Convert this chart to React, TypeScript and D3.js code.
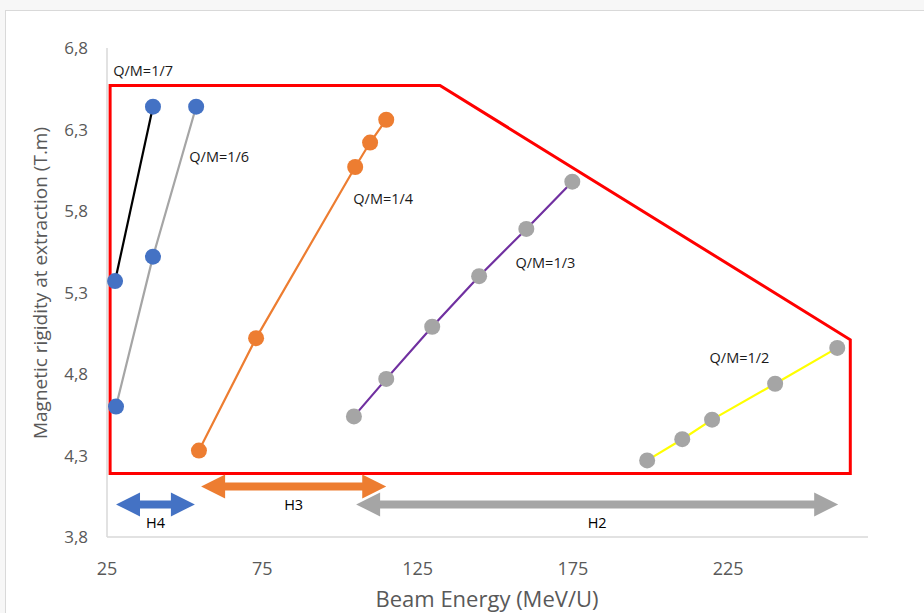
import React, { useRef, useEffect } from 'react';
import * as d3 from 'd3';

const qm7X = [27.6, 39.8];
const qm7Y = [5.37, 6.44];
const qm6X = [27.9, 39.8, 53.7];
const qm6Y = [4.60, 5.52, 6.44];
const qm4X = [54.6, 73.0, 104.9, 109.7, 114.9];
const qm4Y = [4.33, 5.02, 6.07, 6.22, 6.36];
const qm3X = [104.5, 114.9, 129.7, 144.8, 160.0, 174.8];
const qm3Y = [4.54, 4.77, 5.09, 5.40, 5.69, 5.98];
const qm2X = [198.9, 210.2, 219.8, 240.1, 260.1];
const qm2Y = [4.27, 4.40, 4.52, 4.74, 4.96];

const boundX = [26, 132.2, 264.3, 264.3, 26];
const boundY = [6.57, 6.57, 5.01, 4.19, 4.19];

const rangeNames = ['H4', 'H3', 'H2'];
const rangeFrom = [27.9, 55.3, 105.2];
const rangeTo = [53.3, 114.9, 260.4];
const rangeLevel = [4.0, 4.11, 4.0];

const xTicks = [25, 75, 125, 175, 225];
const yTicks = [3.8, 4.3, 4.8, 5.3, 5.8, 6.3, 6.8];

const series = [
  { name: 'Q/M=1/7', xs: qm7X, ys: qm7Y, line: '#000000', dot: '#4472c4', lx: 27, ly: 6.63 },
  { name: 'Q/M=1/6', xs: qm6X, ys: qm6Y, line: '#a5a5a5', dot: '#4472c4', lx: 51.5, ly: 6.1 },
  { name: 'Q/M=1/4', xs: qm4X, ys: qm4Y, line: '#ed7d31', dot: '#ed7d31', lx: 104.3, ly: 5.84 },
  { name: 'Q/M=1/3', xs: qm3X, ys: qm3Y, line: '#7030a0', dot: '#a5a5a5', lx: 156.5, ly: 5.45 },
  { name: 'Q/M=1/2', xs: qm2X, ys: qm2Y, line: '#ffff00', dot: '#a5a5a5', lx: 219, ly: 4.87 },
];
const rangeColors = ['#4472c4', '#ed7d31', '#a5a5a5'];

const W = 924;
const H = 613;
const FONT = '"Open Sans", "Liberation Sans", sans-serif';

const App: React.FC = () => {
  const svgRef = useRef<SVGSVGElement | null>(null);

  useEffect(() => {
    const svg = d3.select(svgRef.current);
    svg.selectAll('*').remove();

    svg.append('rect').attr('width', W).attr('height', H).attr('fill', '#f7f7f7');
    svg.append('rect').attr('x', 5.5).attr('y', 10.5).attr('width', W).attr('height', H)
      .attr('fill', '#ffffff').attr('stroke', '#d9d9d9');

    const x = d3.scaleLinear().domain([25, 270]).range([107, 868]);
    const y = d3.scaleLinear().domain([3.8, 6.8]).range([537, 48]);

    // axes lines
    svg.append('line').attr('x1', x(25)).attr('x2', x(270)).attr('y1', y(3.8)).attr('y2', y(3.8))
      .attr('stroke', '#d9d9d9').attr('stroke-width', 1.5);
    svg.append('line').attr('x1', x(25)).attr('x2', x(25)).attr('y1', y(3.8)).attr('y2', y(6.8))
      .attr('stroke', '#d9d9d9').attr('stroke-width', 1.5);

    svg.append('g').selectAll('text').data(xTicks).join('text')
      .attr('x', d => x(d)).attr('y', 575).attr('text-anchor', 'middle')
      .attr('font-family', FONT).attr('font-size', 18).attr('fill', '#595959')
      .text(d => String(d));
    svg.append('g').selectAll('text').data(yTicks).join('text')
      .attr('x', 88).attr('y', d => y(d) + 6).attr('text-anchor', 'end')
      .attr('font-family', FONT).attr('font-size', 17).attr('fill', '#595959')
      .text(d => d.toFixed(1).replace('.', ','));

    svg.append('text').attr('x', 487).attr('y', 607).attr('text-anchor', 'middle')
      .attr('font-family', FONT).attr('font-size', 22).attr('fill', '#595959')
      .text('Beam Energy (MeV/U)');
    svg.append('text').attr('transform', 'translate(47,283) rotate(-90)').attr('text-anchor', 'middle')
      .attr('font-family', FONT).attr('font-size', 19).attr('fill', '#595959')
      .text('Magnetic rigidity at extraction (T.m)');

    // red boundary
    const bound = d3.line<number>().x(i => x(boundX[i])).y(i => y(boundY[i]));
    svg.append('path').attr('d', bound(d3.range(boundX.length)) + 'Z')
      .attr('fill', 'none').attr('stroke', '#ff0000').attr('stroke-width', 3);

    // series
    series.forEach(s => {
      const idx = d3.range(s.xs.length);
      const line = d3.line<number>().x(i => x(s.xs[i])).y(i => y(s.ys[i]));
      svg.append('path').attr('d', line(idx)).attr('fill', 'none')
        .attr('stroke', s.line).attr('stroke-width', 2.2);
      svg.append('g').selectAll('circle').data(idx).join('circle')
        .attr('cx', i => x(s.xs[i])).attr('cy', i => y(s.ys[i])).attr('r', 8)
        .attr('fill', s.dot);
      svg.append('text').attr('x', x(s.lx)).attr('y', y(s.ly))
        .attr('font-family', FONT).attr('font-size', 14.5).attr('fill', '#1a1a1a')
        .text(s.name);
    });

    // beam range arrows
    rangeNames.forEach((n, i) => {
      const x0 = x(rangeFrom[i]);
      const x1 = x(rangeTo[i]);
      const yy = y(rangeLevel[i]);
      const hl = 24;
      const hw = 12;
      const sw = 4;
      const pts: [number, number][] = [
        [x0, yy], [x0 + hl, yy - hw], [x0 + hl, yy - sw], [x1 - hl, yy - sw], [x1 - hl, yy - hw],
        [x1, yy], [x1 - hl, yy + hw], [x1 - hl, yy + sw], [x0 + hl, yy + sw], [x0 + hl, yy + hw],
      ];
      svg.append('polygon').attr('points', pts.map(p => p.join(',')).join(' '))
        .attr('fill', rangeColors[i]);
      svg.append('text').attr('x', (x0 + x1) / 2).attr('y', yy + 24).attr('text-anchor', 'middle')
        .attr('font-family', FONT).attr('font-size', 14.5).attr('fill', '#000000')
        .text(n);
    });
  }, []);

  return (
    <svg ref={svgRef} width={W} height={H}
      style={{ position: 'absolute', left: 0, top: 0, display: 'block' }} />
  );
};

export default App;
